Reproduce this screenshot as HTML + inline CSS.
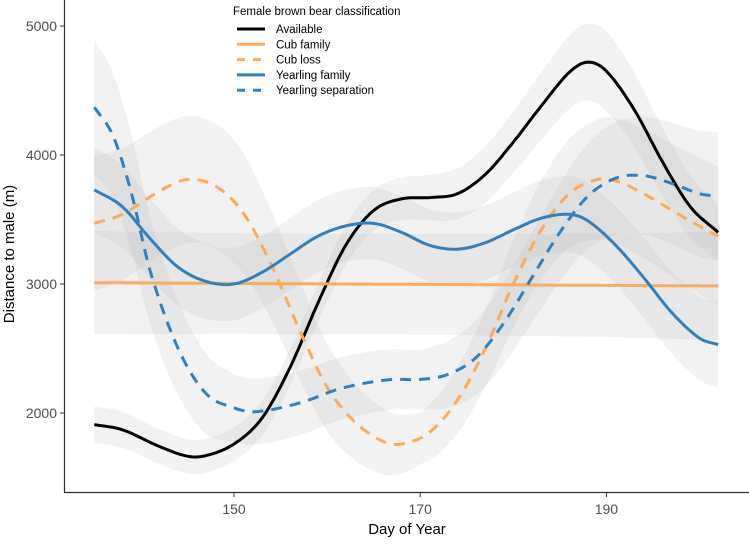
<!DOCTYPE html>
<html><head><meta charset="utf-8"><style>
body{margin:0;background:#fff;font-family:"Liberation Sans",Arial,sans-serif}
svg text{font-family:"Liberation Sans",Arial,sans-serif}
</style></head><body>
<svg id="chart" width="749" height="541">
<g id="ribbons"></g>
<g id="lines"></g>
<g id="axes"></g>
<g id="legend"></g>
</svg>
<script>
const xTicks=[150,170,190];
const yTicks=[2000,3000,4000,5000];
const availDays=[135,138,142,145,147,150,153,156,159,162,165,168,171,174,177,180,183,186,188,190,193,196,199,202];
const availVals=[1910,1870,1740,1665,1670,1760,1960,2350,2850,3300,3570,3660,3670,3700,3850,4100,4380,4640,4720,4650,4350,3950,3600,3400];
const cubFamDays=[135,202];
const cubFamVals=[3010,2985];
const cubLossDays=[135,138,142,145,148,151,154,157,160,163,166,168,171,174,177,180,183,186,189,191,194,198,202];
const cubLossVals=[3470,3540,3720,3810,3760,3550,3150,2650,2200,1930,1780,1760,1850,2100,2500,3000,3420,3700,3810,3800,3700,3530,3370];
const yrFamDays=[135,138,141,144,147,150,153,156,159,162,165,168,171,174,177,180,183,186,188,191,194,197,200,202];
const yrFamVals=[3730,3600,3350,3130,3020,3000,3090,3230,3370,3450,3470,3400,3300,3270,3320,3420,3510,3540,3490,3300,3050,2780,2580,2530];
const yrSepDays=[135,137,139,141,144,147,150,152,155,158,161,164,167,170,173,176,179,182,185,188,191,194,197,200,202];
const yrSepVals=[4370,4150,3700,3100,2500,2150,2040,2010,2040,2100,2180,2230,2260,2260,2300,2430,2700,3050,3400,3680,3820,3840,3780,3700,3680];
const seDays=[135,150,170,190,202];
const availSE=[140,130,170,310,220];
const cubFamSE=[400,390,390,400,420];
const cubLossSE=[520,480,200,480,540];
const yrFamSE=[330,280,280,300,330];
const yrSepSE=[520,260,230,430,500];

const NS="http://www.w3.org/2000/svg";
const xs=d=>234+(d-150)*9.31;
const ys=v=>284-(v-3000)*0.129;
function interp(xa,ya,x){
  if(xa.length===2){return ya[0]+(ya[1]-ya[0])*(x-xa[0])/(xa[1]-xa[0]);}
  let i=0;while(i<xa.length-2&&x>xa[i+1])i++;
  const p0=i>0?i-1:i,p1=i,p2=i+1,p3=i+2<xa.length?i+2:i+1;
  const t=(x-xa[p1])/(xa[p2]-xa[p1]);
  const m1=(ya[p2]-ya[p0])/(xa[p2]-xa[p0])*(xa[p2]-xa[p1]);
  const m2=(ya[p3]-ya[p1])/(xa[p3]-xa[p1])*(xa[p2]-xa[p1]);
  const t2=t*t,t3=t2*t;
  return (2*t3-3*t2+1)*ya[p1]+(t3-2*t2+t)*m1+(-2*t3+3*t2)*ya[p2]+(t3-t2)*m2;
}
function lin(xa,ya,x){let i=0;while(i<xa.length-2&&x>xa[i+1])i++;return ya[i]+(ya[i+1]-ya[i])*(x-xa[i])/(xa[i+1]-xa[i]);}
const series=[
 {name:"available",days:availDays,vals:availVals,se:availSE,color:"#000",dash:""},
 {name:"cub-family",days:cubFamDays,vals:cubFamVals,se:cubFamSE,color:"#fdaa5a",dash:""},
 {name:"cub-loss",days:cubLossDays,vals:cubLossVals,se:cubLossSE,color:"#fdaa5a",dash:"11,8"},
 {name:"yearling-family",days:yrFamDays,vals:yrFamVals,se:yrFamSE,color:"#2f80c0",dash:""},
 {name:"yearling-separation",days:yrSepDays,vals:yrSepVals,se:yrSepSE,color:"#2f80c0",dash:"11,8"}
];
const rib=document.getElementById('ribbons'),ln=document.getElementById('lines');
series.forEach(s=>{
  const d0=s.days[0],d1=s.days[s.days.length-1];
  let up=[],lo=[],mid=[];
  for(let d=d0;d<=d1+1e-9;d+=0.25){
    const v=interp(s.days,s.vals,d),e=lin(seDays,s.se,d);
    mid.push(xs(d).toFixed(1)+","+ys(v).toFixed(1));
    up.push(xs(d).toFixed(1)+","+ys(v+e).toFixed(1));
    lo.unshift(xs(d).toFixed(1)+","+ys(v-e).toFixed(1));
  }
  const r=document.createElementNS(NS,'polygon');
  r.setAttribute('points',up.concat(lo).join(' '));
  r.setAttribute('fill','#bdbdbd');r.setAttribute('fill-opacity','0.2');
  
  
  rib.appendChild(r);
  const p=document.createElementNS(NS,'polyline');
  p.setAttribute('points',mid.join(' '));
  p.setAttribute('fill','none');p.setAttribute('stroke',s.color);p.setAttribute('stroke-width','3');
  if(s.dash)p.setAttribute('stroke-dasharray',s.dash);
  
  
  ln.appendChild(p);
});
const ax=document.getElementById('axes');
let h='<line x1="64.5" y1="0" x2="64.5" y2="493" stroke="#333" stroke-width="1.2"/><line x1="64" y1="492.5" x2="749" y2="492.5" stroke="#333" stroke-width="1.2"/>';
xTicks.forEach(t=>{h+=`<line x1="${xs(t)}" y1="493" x2="${xs(t)}" y2="497" stroke="#333"/><text x="${xs(t)}" y="514" text-anchor="middle" font-size="14" fill="#4d4d4d">${t}</text>`;});
yTicks.forEach(t=>{h+=`<line x1="60" y1="${ys(t)}" x2="64" y2="${ys(t)}" stroke="#333"/><text x="57" y="${ys(t)+5}" text-anchor="end" font-size="14" fill="#4d4d4d">${t}</text>`;});
h+='<text x="407" y="534" text-anchor="middle" font-size="15" fill="#000">Day of Year</text>';
h+='<text transform="translate(14,254) rotate(-90)" text-anchor="middle" font-size="15" fill="#000">Distance to male (m)</text>';
ax.innerHTML=h;
const lg=document.getElementById('legend');
let g='<text x="233" y="15" font-size="11.5" fill="#000">Female brown bear classification</text>';
const labels=["Available","Cub family","Cub loss","Yearling family","Yearling separation"];
series.forEach((s,i)=>{const y=29+i*15.3;
 g+=`<g><line x1="237" y1="${y}" x2="265" y2="${y}" stroke="${s.color}" stroke-width="3" ${s.dash?'stroke-dasharray="8,8"':''}/><text x="276" y="${y+4}" font-size="11.5" fill="#000">${labels[i]}</text></g>`;});
lg.innerHTML=g;
</script>
</body></html>
